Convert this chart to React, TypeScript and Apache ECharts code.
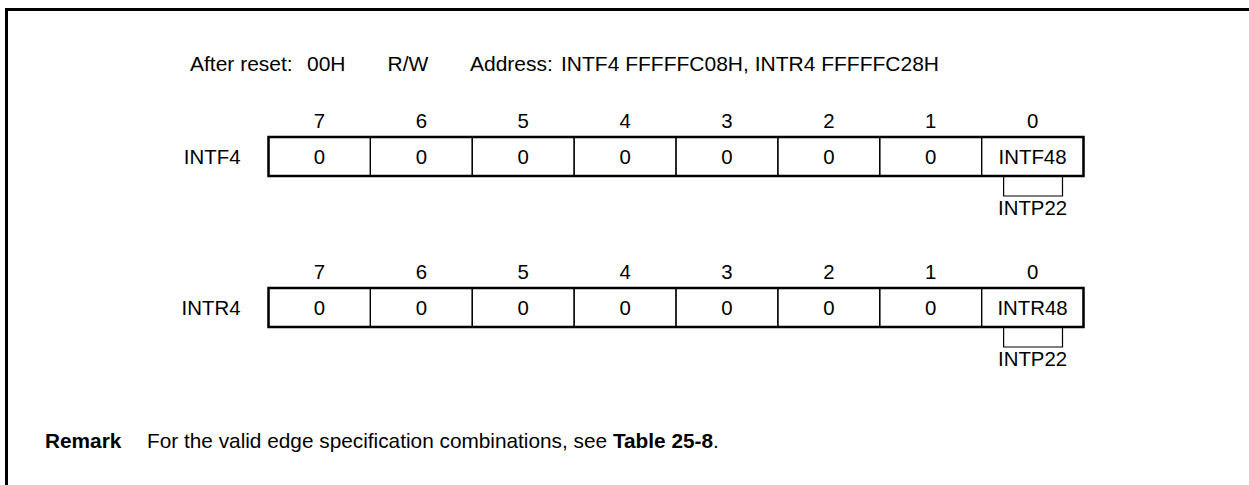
import React, { useEffect, useRef } from 'react';
import * as echarts from 'echarts';

const bitNumbers = ['7', '6', '5', '4', '3', '2', '1', '0'];
const registerNames = ['INTF4', 'INTR4'];
const intf4Bits = ['0', '0', '0', '0', '0', '0', '0', 'INTF48'];
const intr4Bits = ['0', '0', '0', '0', '0', '0', '0', 'INTR48'];
const intf4Pins = ['', '', '', '', '', '', '', 'INTP22'];
const intr4Pins = ['', '', '', '', '', '', '', 'INTP22'];
const headerItems = ['After reset:', '00H', 'R/W', 'Address:', 'INTF4 FFFFFC08H, INTR4 FFFFFC28H'];
const remarkLabel = 'Remark';
const remarkText = 'For the valid edge specification combinations, see ';
const remarkRef = 'Table 25-8';

export default function App() {
  const ref = useRef<HTMLDivElement>(null);
  useEffect(() => {
    const chart = echarts.init(ref.current!, null, { renderer: 'svg' });
    const FONT = '"Liberation Sans", Arial, Helvetica, sans-serif';
    const FS = 20.4;
    const HFS = 21;
    const RFS = 20.8;
    const gridTops = [137, 288];
    const bitRows = [intf4Bits, intr4Bits];
    const pinRows = [intf4Pins, intr4Pins];
    const headerX = [190, 307, 387.5, 470, 561];

    const option: any = {
      animation: false,
      grid: gridTops.map((t) => ({
        left: 268.5,
        top: t,
        width: 815,
        height: 39,
        show: true,
        borderColor: '#000',
        borderWidth: 2.5,
        backgroundColor: 'transparent',
      })),
      xAxis: registerNames.map((_, gi) => ({
        gridIndex: gi,
        type: 'category',
        data: bitNumbers,
        position: 'top',
        axisLine: { show: false },
        axisTick: { show: false },
        splitLine: { show: false },
        axisLabel: { fontSize: FS, color: '#000', fontFamily: FONT, margin: 6 },
      })),
      yAxis: registerNames.map((name, gi) => ({
        gridIndex: gi,
        type: 'category',
        data: [name],
        axisLine: { show: false },
        axisTick: { show: false },
        splitLine: { show: false },
        axisLabel: { fontSize: FS, color: '#000', fontFamily: FONT, margin: 28 },
      })),
      series: registerNames.map((_, gi) => ({
        type: 'custom',
        xAxisIndex: gi,
        yAxisIndex: gi,
        data: bitRows[gi].map((_v, i) => [i, 0]),
        renderItem: (params: any, api: any) => {
          const idx = params.dataIndex;
          const c = api.coord([api.value(0), api.value(1)]);
          const s = api.size([1, 1]);
          const x0 = c[0] - s[0] / 2;
          const y0 = c[1] - s[1] / 2;
          const children: any[] = [
            {
              type: 'rect',
              shape: { x: x0, y: y0, width: s[0], height: s[1] },
              style: { fill: 'none', stroke: '#000', lineWidth: 1.2 },
            },
            {
              type: 'text',
              style: {
                text: bitRows[gi][idx],
                x: c[0],
                y: c[1],
                align: 'center',
                verticalAlign: 'middle',
                fontSize: FS,
                fontFamily: FONT,
                fill: '#000',
              },
            },
          ];
          const pin = pinRows[gi][idx];
          if (pin) {
            const yb = y0 + s[1];
            children.push({
              type: 'polyline',
              shape: {
                points: [
                  [x0 + 22, yb],
                  [x0 + 22, yb + 20],
                  [x0 + s[0] - 21, yb + 20],
                  [x0 + s[0] - 21, yb],
                ],
              },
              style: { fill: 'none', stroke: '#000', lineWidth: 1.2 },
            });
            children.push({
              type: 'text',
              style: {
                text: pin,
                x: c[0],
                y: yb + 32,
                align: 'center',
                verticalAlign: 'middle',
                fontSize: FS,
                fontFamily: FONT,
                fill: '#000',
              },
            });
          }
          return { type: 'group', children };
        },
      })),
      graphic: [
        {
          type: 'rect',
          silent: true,
          shape: { x: 6.5, y: 9.5, width: 1400, height: 800 },
          style: { fill: 'none', stroke: '#000', lineWidth: 3 },
        },
        ...headerItems.map((t, i) => ({
          type: 'text',
          x: headerX[i],
          y: 63,
          style: { text: t, fontSize: HFS, fontFamily: FONT, fill: '#000', verticalAlign: 'middle' },
        })),
        {
          type: 'text',
          x: 45,
          y: 440,
          style: { text: remarkLabel, fontSize: RFS, fontWeight: 'bold', fontFamily: FONT, fill: '#000', verticalAlign: 'middle' },
        },
        {
          type: 'text',
          x: 147,
          y: 440,
          style: {
            text: '{n|' + remarkText + '}{b|' + remarkRef + '}{n|.}',
            verticalAlign: 'middle',
            rich: {
              n: { fontSize: RFS, fontFamily: FONT, fill: '#000', color: '#000' },
              b: { fontSize: RFS, fontFamily: FONT, fontWeight: 'bold', fill: '#000', color: '#000' },
            },
          },
        },
      ],
    };
    chart.setOption(option);
    return () => chart.dispose();
  }, []);
  return (
    <div
      ref={ref}
      style={{ position: 'fixed', left: 0, top: 0, width: 1249, height: 485, background: '#fff' }}
    />
  );
}
